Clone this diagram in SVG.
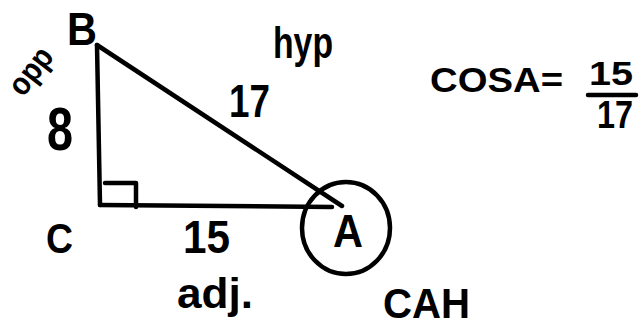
<svg xmlns="http://www.w3.org/2000/svg" width="641" height="327" viewBox="0 0 641 327">
<style>
.ln{fill:none;stroke:#000;stroke-width:4.5;stroke-linecap:round;stroke-linejoin:round}
.t{font-family:"Liberation Sans",Arial,sans-serif;font-weight:bold;fill:#000}
</style>
<rect width="641" height="327" fill="#fff"/>
<g id="connectors">
<path class="ln" d="M97,45 L100,205"/>
<path class="ln" d="M97,45 L342,206"/>
<path class="ln" d="M100,205 L332,207"/>
<path class="ln" d="M105,183 L136,183 L136,207"/>
</g>
<g id="vertex-B"><text class="t" x="67" y="45" font-size="46" textLength="30" lengthAdjust="spacingAndGlyphs">B</text></g>
<g id="vertex-C"><text class="t" x="46" y="253" font-size="42" textLength="27" lengthAdjust="spacingAndGlyphs">C</text></g>
<g id="vertex-A">
<ellipse class="ln" cx="346" cy="228" rx="44" ry="46"/>
<text class="t" x="333" y="247" font-size="46" textLength="30" lengthAdjust="spacingAndGlyphs">A</text>
</g>
<g id="label-opp"><text class="t" x="0" y="0" font-size="32" textLength="52" lengthAdjust="spacingAndGlyphs" transform="translate(23,98) rotate(-52)">opp</text></g>
<g id="label-8"><text class="t" x="47" y="150" font-size="62" textLength="26" lengthAdjust="spacingAndGlyphs">8</text></g>
<g id="label-hyp"><text class="t" x="273" y="58" font-size="44" textLength="60" lengthAdjust="spacingAndGlyphs">hyp</text></g>
<g id="label-17"><text class="t" x="229" y="117" font-size="46" textLength="41" lengthAdjust="spacingAndGlyphs">17</text></g>
<g id="label-15"><text class="t" x="183" y="253" font-size="46" textLength="47" lengthAdjust="spacingAndGlyphs">15</text></g>
<g id="label-adj"><text class="t" x="177" y="308" font-size="42" textLength="76" lengthAdjust="spacingAndGlyphs">adj.</text></g>
<g id="label-CAH"><text class="t" x="383" y="318" font-size="42" textLength="87" lengthAdjust="spacingAndGlyphs">CAH</text></g>
<g id="formula">
<text class="t" x="430" y="92" font-size="35" textLength="133" lengthAdjust="spacingAndGlyphs">COSA=</text>
<text class="t" x="589" y="85" font-size="34" textLength="44" lengthAdjust="spacingAndGlyphs">15</text>
<path class="ln" d="M588,95 L636,95"/>
<text class="t" x="597" y="128" font-size="38" textLength="36" lengthAdjust="spacingAndGlyphs">17</text>
</g>
</svg>
